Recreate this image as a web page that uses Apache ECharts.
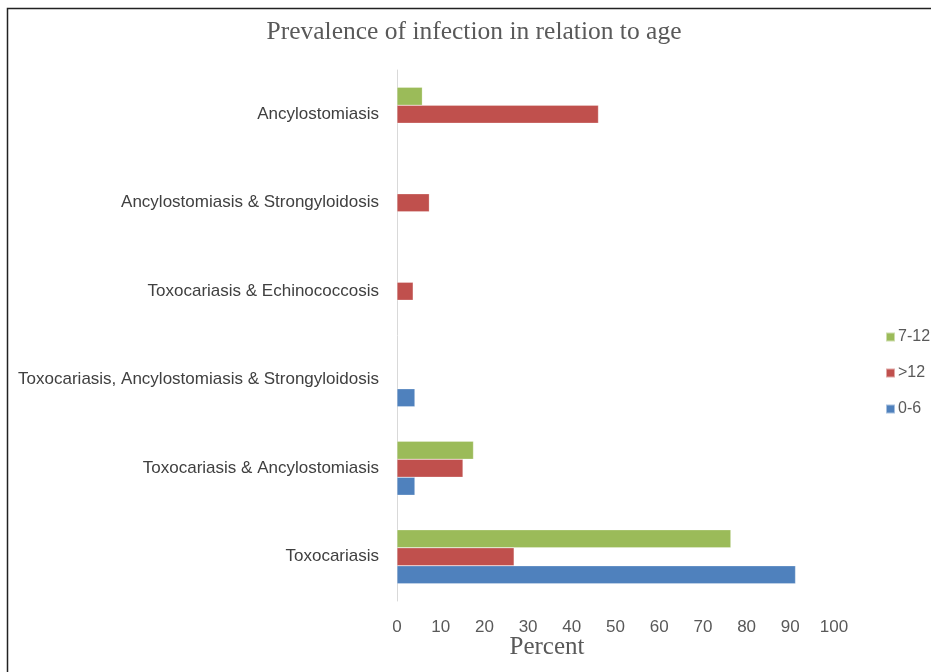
<!DOCTYPE html>
<html>
<head>
<meta charset="utf-8">
<script src="https://cdn.jsdelivr.net/npm/echarts@6/dist/echarts.min.js"></script>
<style>
  html, body { margin: 0; padding: 0; background: #fff; }
  #chart { width: 931px; height: 672px; }
</style>
</head>
<body>
<div id="chart"></div>
<script>
// Infection types, listed bottom to top along the category axis
const categories = [
  'Toxocariasis',
  'Toxocariasis & Ancylostomiasis',
  'Toxocariasis, Ancylostomiasis & Strongyloidosis',
  'Toxocariasis & Echinococcosis',
  'Ancylostomiasis & Strongyloidosis',
  'Ancylostomiasis'
];

// Percent infected per age group (null = no bar)
const age0to6 = [91.2, 4.1, 4.1, null, null, null];
const ageOver12 = [26.8, 15.1, null, 3.7, 7.4, 46.1];
const age7to12 = [76.4, 17.5, null, null, null, 5.8];

const percentTicks = [0, 10, 20, 30, 40, 50, 60, 70, 80, 90, 100];

const chart = echarts.init(document.getElementById('chart'));

const labelFont = '"Liberation Sans", Arial, sans-serif';
const serifFont = '"Liberation Serif", "Times New Roman", serif';

const barBase = { type: 'bar', barGap: '0%', barCategoryGap: '39%' };

chart.setOption({
  animation: false,
  backgroundColor: '#ffffff',
  title: [
    {
      text: 'Prevalence of infection in relation to age',
      left: 469,
      top: 14,
      textAlign: 'center',
      textStyle: { fontFamily: serifFont, fontSize: 25.5, fontWeight: 'normal', color: '#595959' }
    },
    {
      text: 'Percent',
      left: 542,
      top: 630,
      textAlign: 'center',
      textStyle: { fontFamily: serifFont, fontSize: 25, fontWeight: 'normal', color: '#595959' }
    }
  ],
  graphic: [
    {
      type: 'rect',
      shape: { x: 7.5, y: 8.5, width: 1000, height: 1000 },
      style: { fill: 'none', stroke: '#222', lineWidth: 1.5 },
      silent: true
    }
  ],
  legend: {
    orient: 'vertical',
    left: 880,
    top: 324,
    itemWidth: 9,
    itemHeight: 9,
    itemGap: 20,
    icon: 'rect',
    data: ['7-12', '>12', '0-6'],
    textStyle: { fontFamily: labelFont, fontSize: 16, color: '#595959', padding: [0, 0, 0, -2] }
  },
  grid: { left: 397, right: 97, top: 70, bottom: 71, containLabel: false },
  xAxis: {
    type: 'value',
    min: 0,
    max: 100,
    interval: 10,
    axisLine: { show: false },
    axisTick: { show: false },
    splitLine: { show: false },
    axisLabel: {
      margin: 18,
      fontFamily: labelFont,
      fontSize: 17,
      color: '#595959',
      formatter: function (v) { return percentTicks.indexOf(v) >= 0 ? String(v) : ''; }
    }
  },
  yAxis: {
    type: 'category',
    data: categories,
    axisLine: { show: true, lineStyle: { color: '#d9d9d9', width: 1 } },
    axisTick: { show: false },
    axisLabel: { margin: 18, fontFamily: labelFont, fontSize: 17, color: '#404040' }
  },
  // Series listed top-to-bottom within each category group
  series: [
    Object.assign({ name: '7-12', data: age7to12,
      itemStyle: { color: '#9BBB59', borderColor: 'rgba(255,255,255,0.5)', borderWidth: 0.5 } }, barBase),
    Object.assign({ name: '>12', data: ageOver12,
      itemStyle: { color: '#C0504D', borderColor: 'rgba(255,255,255,0.5)', borderWidth: 0.5 } }, barBase),
    Object.assign({ name: '0-6', data: age0to6,
      itemStyle: { color: '#4F81BD', borderColor: 'rgba(255,255,255,0.5)', borderWidth: 0.5 } }, barBase)
  ]
});
</script>
</body>
</html>
